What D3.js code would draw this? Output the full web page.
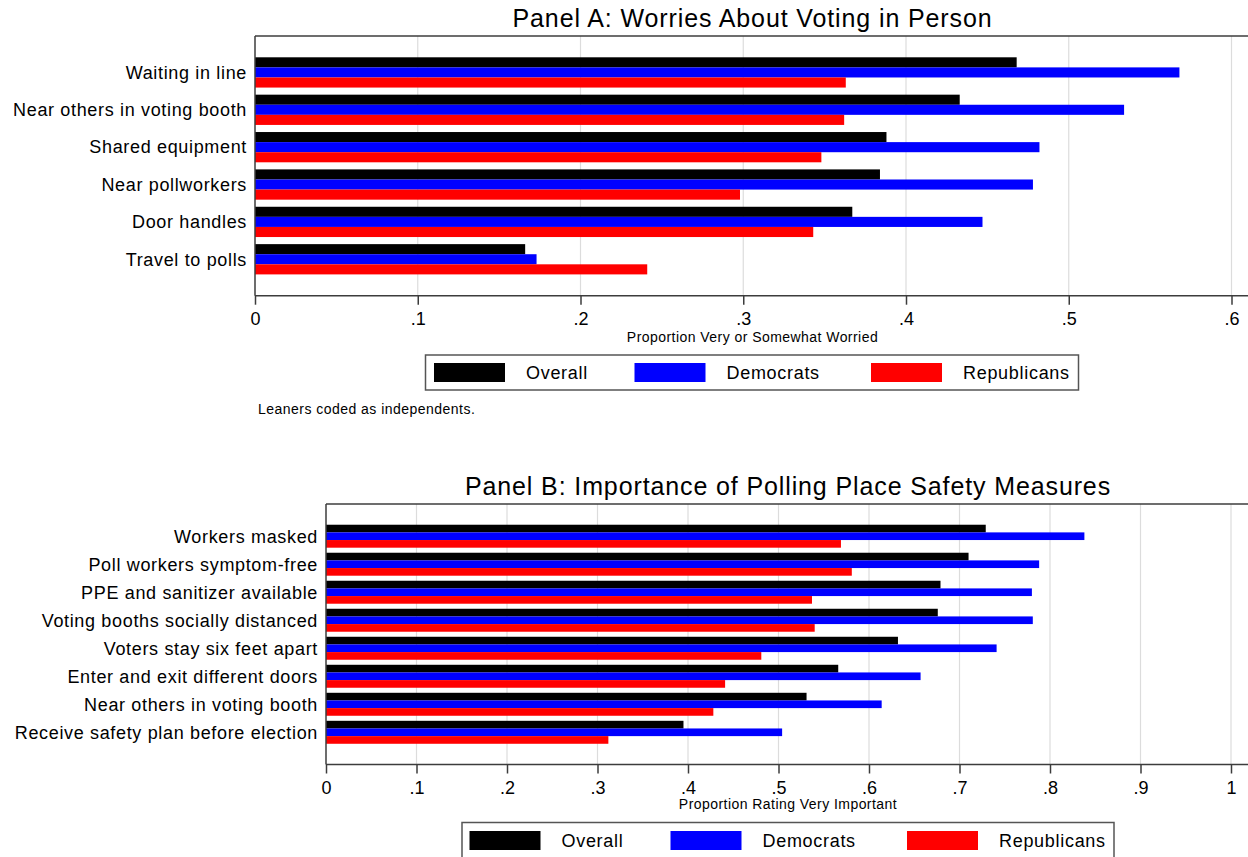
<!DOCTYPE html>
<html>
<head>
<meta charset="utf-8">
<script src="https://cdn.jsdelivr.net/npm/d3@7"></script>
<style>
  html, body { margin: 0; padding: 0; background: #fff; }
  svg { display: block; font-family: Arial, "Liberation Sans", sans-serif; }
</style>
</head>
<body>
<svg id="chart" width="1248" height="857"></svg>
<script>
// ---- Data ----
const seriesNames = ["Overall", "Democrats", "Republicans"];
const seriesColors = ["#000000", "#0000ff", "#ff0000"];

const categoriesA = ["Waiting in line", "Near others in voting booth", "Shared equipment",
  "Near pollworkers", "Door handles", "Travel to polls"];
const overallA     = [0.468, 0.433, 0.388, 0.384, 0.367, 0.166];
const democratsA   = [0.568, 0.534, 0.482, 0.478, 0.447, 0.173];
const republicansA = [0.363, 0.362, 0.348, 0.298, 0.343, 0.241];
const ticksA = [0, 0.1, 0.2, 0.3, 0.4, 0.5, 0.6];

const categoriesB = ["Workers masked", "Poll workers symptom-free", "PPE and sanitizer available",
  "Voting booths socially distanced", "Voters stay six feet apart", "Enter and exit different doors",
  "Near others in voting booth", "Receive safety plan before election"];
const overallB     = [0.729, 0.710, 0.679, 0.676, 0.632, 0.566, 0.531, 0.395];
const democratsB   = [0.838, 0.788, 0.780, 0.781, 0.741, 0.657, 0.614, 0.504];
const republicansB = [0.569, 0.581, 0.537, 0.540, 0.481, 0.441, 0.428, 0.312];
const ticksB = [0, 0.1, 0.2, 0.3, 0.4, 0.5, 0.6, 0.7, 0.8, 0.9, 1];

const svg = d3.select("#chart");
const fmtTick = d => d === 0 ? "0" : d === 1 ? "1" : d3.format(".1f")(d).replace(/^0/, "");

function drawPanel(opt) {
  const g = svg.append("g");
  const x = d3.scaleLinear().domain(opt.domain).range([opt.left, opt.x1]);
  const y = d3.scaleBand().domain(opt.categories).range([opt.top, opt.bottom])
    .paddingInner(opt.padIn).paddingOuter(opt.padOut);
  const sub = d3.scaleBand().domain(seriesNames).range([0, y.bandwidth()]);

  // title
  g.append("text")
    .attr("x", (opt.left + opt.right) / 2).attr("y", opt.titleY)
    .attr("text-anchor", "middle").attr("font-size", 25).attr("letter-spacing", "0.88px")
    .attr("fill", "#000")
    .text(opt.title);

  // gridlines
  g.append("g").selectAll("line").data(opt.ticks.filter(t => t > 0)).join("line")
    .attr("x1", d => x(d)).attr("x2", d => x(d))
    .attr("y1", opt.top).attr("y2", opt.bottom)
    .attr("stroke", "#dcdcdc").attr("stroke-width", 1.2);

  // bars
  const rows = opt.categories.map((c, i) => ({ c, vals: opt.series.map(s => s[i]) }));
  const grp = g.append("g").selectAll("g").data(rows).join("g")
    .attr("transform", d => `translate(0,${y(d.c)})`);
  grp.selectAll("rect").data(d => d.vals.map((v, k) => ({ v, k }))).join("rect")
    .attr("x", x(0))
    .attr("y", d => sub(seriesNames[d.k]))
    .attr("width", d => x(d.v) - x(0))
    .attr("height", sub.bandwidth())
    .attr("fill", d => seriesColors[d.k]);

  // category labels
  g.append("g").selectAll("text").data(opt.categories).join("text")
    .attr("x", opt.left - 8)
    .attr("y", d => y(d) + y.bandwidth() / 2)
    .attr("dy", "0.35em")
    .attr("text-anchor", "end").attr("font-size", 18).attr("letter-spacing", "0.66px")
    .attr("fill", "#000")
    .text(d => d);

  // frame: top and left lines
  g.append("line").attr("x1", opt.left).attr("x2", opt.right)
    .attr("y1", opt.top).attr("y2", opt.top)
    .attr("stroke", "#3c3c3c").attr("stroke-width", 1.5);
  g.append("line").attr("x1", opt.left).attr("x2", opt.left)
    .attr("y1", opt.top).attr("y2", opt.bottom)
    .attr("stroke", "#3c3c3c").attr("stroke-width", 1.5);

  // x axis
  const axis = d3.axisBottom(x).tickValues(opt.ticks).tickFormat(fmtTick)
    .tickSize(9).tickPadding(8);
  const ax = g.append("g").attr("transform", `translate(0,${opt.bottom})`).call(axis);
  ax.select(".domain").remove();
  ax.selectAll(".tick line").attr("stroke", "#3c3c3c").attr("stroke-width", 1.5);
  ax.selectAll(".tick text").attr("font-size", 18).attr("fill", "#000")
    .attr("font-family", "Arial, 'Liberation Sans', sans-serif");
  g.append("line").attr("x1", opt.left).attr("x2", opt.right)
    .attr("y1", opt.bottom).attr("y2", opt.bottom)
    .attr("stroke", "#3c3c3c").attr("stroke-width", 1.5);

  // axis title
  g.append("text")
    .attr("x", (opt.left + opt.right) / 2).attr("y", opt.axisTitleY)
    .attr("text-anchor", "middle").attr("font-size", 14).attr("letter-spacing", "0.45px")
    .attr("fill", "#000")
    .text(opt.axisTitle);

  // legend
  const L = opt.legend;
  g.append("rect").attr("x", L.x).attr("y", L.y).attr("width", L.w).attr("height", L.h)
    .attr("fill", "#fff").attr("stroke", "#555").attr("stroke-width", 1.5);
  const items = g.append("g").selectAll("g").data(seriesNames).join("g")
    .attr("transform", (d, i) => `translate(${L.itemX[i]},${L.y})`);
  items.append("rect").attr("x", 0).attr("y", L.swY).attr("width", 71).attr("height", 19)
    .attr("fill", (d, i) => seriesColors[i]);
  items.append("text").attr("x", L.textDx).attr("y", L.swY + 9.5).attr("dy", "0.35em")
    .attr("font-size", 18).attr("letter-spacing", "0.7px").attr("fill", "#000").text(d => d);
}

drawPanel({
  title: "Panel A: Worries About Voting in Person", titleY: 27,
  categories: categoriesA, series: [overallA, democratsA, republicansA],
  domain: [0, 0.6], ticks: ticksA,
  left: 255, x1: 1231.5, right: 1250, top: 36, bottom: 295.7,
  padIn: 0.19, padOut: 0.57,
  axisTitle: "Proportion Very or Somewhat Worried", axisTitleY: 342,
  legend: { x: 425.5, y: 355, w: 653, h: 35, swY: 8, itemX: [434, 634.5, 871], textDx: 92 }
});

drawPanel({
  title: "Panel B: Importance of Polling Place Safety Measures", titleY: 495,
  categories: categoriesB, series: [overallB, democratsB, republicansB],
  domain: [0, 1], ticks: ticksB,
  left: 326, x1: 1231, right: 1250, top: 504, bottom: 764.5,
  padIn: 0.18, padOut: 0.74,
  axisTitle: "Proportion Rating Very Important", axisTitleY: 809,
  legend: { x: 462, y: 822.5, w: 652, h: 36, swY: 8.5, itemX: [469.5, 670.5, 907], textDx: 92 }
});

// note under panel A
svg.append("text").attr("x", 258).attr("y", 414)
  .attr("font-size", 14).attr("letter-spacing", "0.47px").attr("fill", "#000")
  .text("Leaners coded as independents.");
</script>
</body>
</html>
